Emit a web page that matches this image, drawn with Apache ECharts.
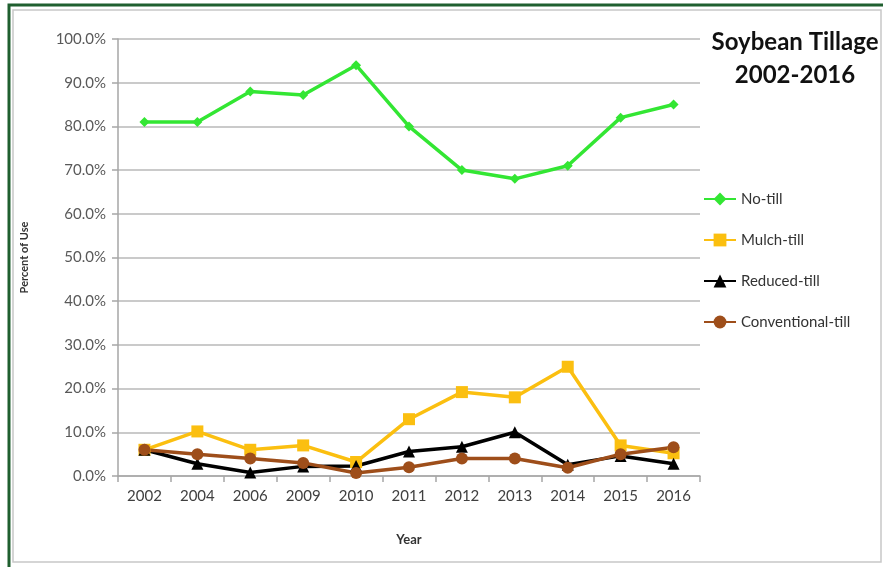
<!DOCTYPE html>
<html>
<head>
<meta charset="utf-8">
<script src="https://cdn.jsdelivr.net/npm/echarts@6/dist/echarts.min.js"></script>
<style>
html,body{margin:0;padding:0;background:#fff;}
#c{width:883px;height:567px;}
</style>
</head>
<body>
<div id="c"></div>
<script>
var years = ['2002','2004','2006','2009','2010','2011','2012','2013','2014','2015','2016'];
var noTill = [81, 81, 88, 87.2, 94, 80, 70, 68, 71, 82, 85];
var mulchTill = [6, 10.2, 6, 7, 3.2, 13, 19.2, 18, 25, 7, 5.2];
var reducedTill = [6, 2.8, 0.8, 2.2, 2.3, 5.6, 6.7, 10, 2.6, 4.6, 2.8];
var conventionalTill = [6, 5, 4, 3, 0.7, 2, 4, 4, 1.9, 5, 6.6];
var yTicks = [0, 10, 20, 30, 40, 50, 60, 70, 80, 90, 100];

var chart = echarts.init(document.getElementById('c'));
var FONT = 'Lato';
function mk(name, data, color, symbol, size) {
  return {
    name: name, type: 'line', data: data,
    symbol: symbol, symbolSize: size,
    lineStyle: {color: color, width: 3.5},
    itemStyle: {color: color},
    emphasis: {disabled: true},
    animation: false
  };
}
chart.setOption({
  animation: false,
  backgroundColor: '#fff',
  title: {
    text: 'Soybean Tillage\n2002-2016',
    left: 790, top: 21, textAlign: 'center',
    textStyle: {fontFamily: FONT, fontWeight: 'bold', fontSize: 24, lineHeight: 33, color: '#111'}
  },
  legend: {
    orient: 'vertical', left: 703, top: 191, padding: 0,
    itemWidth: 32, itemHeight: 16, itemGap: 25,
    textStyle: {fontFamily: FONT, fontSize: 15, color: '#333', lineHeight: 16},
    data: ['No-till', 'Mulch-till', 'Reduced-till', 'Conventional-till']
  },
  grid: {left: 118, right: 183, top: 39, bottom: 91},
  xAxis: {
    type: 'category', data: years, boundaryGap: true,
    name: 'Year', nameLocation: 'middle', nameGap: 57,
    nameTextStyle: {fontFamily: FONT, fontWeight: 'bold', fontSize: 13, color: '#333'},
    axisLine: {lineStyle: {color: '#a6a6a6', width: 1.5}},
    axisTick: {show: true, length: 6, lineStyle: {color: '#a6a6a6', width: 1.5}},
    axisLabel: {fontFamily: FONT, fontSize: 15, color: '#404040', margin: 13}
  },
  yAxis: {
    type: 'value', min: yTicks[0], max: yTicks[yTicks.length-1], interval: 10,
    name: 'Percent of Use', nameLocation: 'middle', nameGap: 88, nameRotate: 90,
    nameTextStyle: {fontFamily: FONT, fontWeight: 'bold', fontSize: 11, color: '#333'},
    axisLine: {show: true, lineStyle: {color: '#a6a6a6', width: 1.5}},
    axisTick: {show: true, length: 6, lineStyle: {color: '#a6a6a6', width: 1.5}},
    axisLabel: {fontFamily: FONT, fontSize: 15, color: '#595959', margin: 12,
      formatter: function (v) { return v.toFixed(1) + '%'; }},
    splitLine: {lineStyle: {color: '#b8b8b8', width: 1.5}}
  },
  graphic: [
    {type: 'rect', shape: {x: 9, y: 5, width: 890, height: 580}, style: {fill: 'none', stroke: '#1f5f2f', lineWidth: 3}, silent: true},
    {type: 'rect', shape: {x: 13, y: 10, width: 868, height: 552}, style: {fill: 'none', stroke: '#c8c8c8', lineWidth: 1.5}, silent: true}
  ],
  series: [
    mk('No-till', noTill, '#33e633', 'diamond', 10),
    mk('Mulch-till', mulchTill, '#fbbf10', 'rect', 12),
    mk('Reduced-till', reducedTill, '#000000', 'triangle', 12),
    mk('Conventional-till', conventionalTill, '#9e4e1a', 'circle', 12)
  ]
});
</script>
</body>
</html>
